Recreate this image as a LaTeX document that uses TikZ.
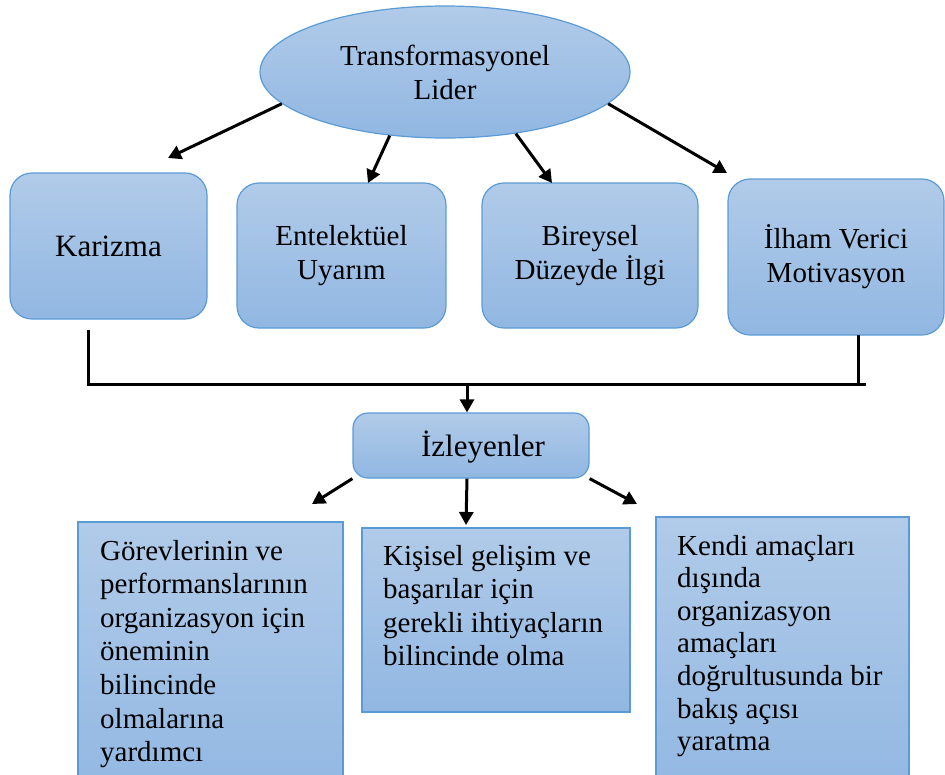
\documentclass[tikz,border=0pt]{standalone}
\usepackage{fontspec}
\setmainfont{Liberation Serif}
\usetikzlibrary{shapes.geometric,arrows.meta,positioning}

\definecolor{boxtop}{RGB}{177,203,233}
\definecolor{boxbot}{RGB}{145,183,226}
\definecolor{boxline}{RGB}{91,155,213}

\begin{document}
\begin{tikzpicture}[x=1pt,y=-1pt,
    blue box/.style={draw=boxline, line width=1.2pt, top color=boxtop, bottom color=boxbot, inner sep=0pt},
    round box/.style={blue box, rounded corners=22pt, align=center, font=\fontsize{29}{34}\selectfont},
    link/.style={line width=3pt, -{Triangle[length=13pt,width=14pt]}},
    bus/.style={line width=3pt},
    body text/.style={anchor=base west, align=left, inner sep=0pt, font=\fontsize{29}{33.6}\selectfont}]
    \useasboundingbox (0,0) rectangle (945,774);

    % Leader
    \node[ellipse, blue box, minimum width=370pt, minimum height=132pt, align=center,
          font=\fontsize{29}{34}\selectfont] (lider) at (445,72) {Transformasyonel\\Lider};

    % Four components
    \node[round box, minimum width=197pt, minimum height=146pt, font=\fontsize{31}{36}\selectfont] (kar) at (108.5,246) {Karizma};
    \node[round box, minimum width=209pt, minimum height=145pt] (ent) at (341.5,255.5) {Entelektüel\\Uyarım};
    \node[round box, minimum width=216pt, minimum height=145pt] (bir) at (590,255.5) {Bireysel\\Düzeyde İlgi};
    \node[round box, minimum width=216pt, minimum height=156pt] (ilh) at (836,257) {İlham Verici\\Motivasyon};

    % Arrows from the leader
    \coordinate (a1) at (168,158);
    \coordinate (a2) at (368,183);
    \coordinate (a3) at (552,183);
    \coordinate (a4) at (727,173);
    \draw[link] (lider.191) -- (a1);
    \draw[link] (lider.229) -- (a2);
    \draw[link] (lider.319) -- (a3);
    \draw[link] (lider.349) -- (a4);

    % Followers
    \node[round box, rounded corners=15pt, minimum width=236pt, minimum height=65pt] (izl) at (471,445.5) {};
    \node[font=\fontsize{31}{36}\selectfont, inner sep=0pt] (izlt) at (483,447) {İzleyenler};

    % Bus line
    \coordinate (kl) at (88,330);
    \coordinate (bl) at (88,384);
    \coordinate (br) at (866,384);
    \coordinate (ml) at (858,335);
    \coordinate (bm) at (467,384);
    \draw[bus] (kl) -- (bl) -- (br);
    \draw[bus] (ml) -- (ml |- br);
    \draw[link] (bm) -- (bm |- izl.north);

    % Outcome boxes (text anchored at the last baseline)
    \node[blue box, minimum width=265pt, minimum height=280pt] (gor) at (210.5,662) {};
    \node[body text] (gort) at (100,761.6) {Görevlerinin ve\\performanslarının\\organizasyon için\\öneminin\\bilincinde\\olmalarına\\yardımcı};

    \node[blue box, minimum width=268pt, minimum height=184pt] (kis) at (496,620) {};
    \node[body text] (kist) at (383,665.8) {Kişisel gelişim ve\\başarılar için\\gerekli ihtiyaçların\\bilincinde olma};

    \node[blue box, minimum width=253pt, minimum height=286pt] (ken) at (782.5,660) {};
    \node[body text, font=\fontsize{29}{32.6}\selectfont] (kent) at (677,750.6) {Kendi amaçları\\dışında\\organizasyon\\amaçları\\doğrultusunda bir\\bakış açısı\\yaratma};

    % Arrows to outcomes
    \coordinate (c1) at (312,504);
    \coordinate (c2) at (466,525);
    \coordinate (c3) at (637,504);
    \draw[link] (izl.south west) -- (c1);
    \draw[link] (bm |- izl.south) -- (c2);
    \draw[link] (izl.south east) -- (c3);
\end{tikzpicture}
\end{document}
